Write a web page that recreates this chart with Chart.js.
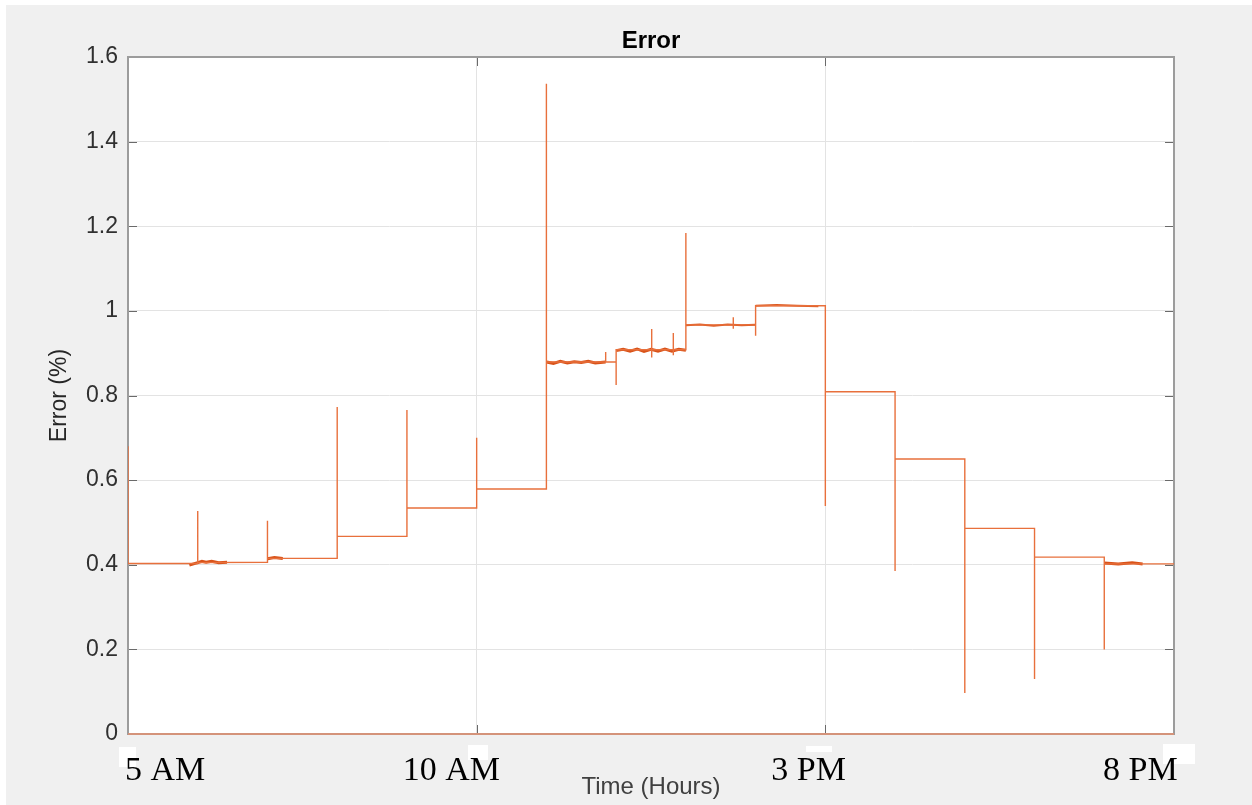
<!DOCTYPE html>
<html><head><meta charset="utf-8">
<script src="https://cdn.jsdelivr.net/npm/chart.js@4.4.1/dist/chart.umd.min.js"></script>
<style>html,body{margin:0;padding:0;background:#fff}#wrap{width:1252px;height:805px;position:relative}</style>
</head><body><div id="wrap"><canvas id="c"></canvas></div>
<script>
const chartTitle = 'Error';
const xAxisTitle = 'Time (Hours)';
const yAxisTitle = 'Error (%)';
const xTickHours = [5, 10, 15, 20];
const xTickLabels = ['5 AM', '10 AM', '3 PM', '8 PM'];
const yMin = 0, yMax = 1.6, yStep = 0.2;

// main (thin) trace: hour of day, error in %
const hours = [
  5, 5,
  6, 6, 6,
  7, 7, 7,
  8, 8, 8,
  9, 9, 9,
  10, 10, 10,
  11, 11, 11,
  11.85, 11.85, 11.85,
  12, 12, 12,
  12.51, 12.51, 12.51, 12.51,
  12.82, 12.82, 12.82, 12.82,
  13, 13, 13,
  13.68, 13.68, 13.68, 13.68,
  14, 14, 14,
  15, 15, 15,
  16, 16, 16,
  17, 17, 17,
  18, 18, 18,
  19, 19, 19,
  20
];
const errorPct = [
  0.68, 0.403,
  0.403, 0.527, 0.405,
  0.406, 0.504, 0.415,
  0.415, 0.773, 0.467,
  0.467, 0.766, 0.534,
  0.534, 0.700, 0.579,
  0.579, 1.537, 0.879,
  0.879, 0.903, 0.879,
  0.879, 0.825, 0.908,
  0.908, 0.957, 0.890, 0.908,
  0.908, 0.948, 0.895, 0.908,
  0.908, 1.184, 0.967,
  0.967, 0.985, 0.958, 0.967,
  0.967, 0.941, 1.012,
  1.012, 0.539, 0.809,
  0.809, 0.385, 0.650,
  0.650, 0.097, 0.486,
  0.486, 0.130, 0.418,
  0.418, 0.200, 0.402,
  0.402
];
// heavily noisy stretches of the same trace; null separates stretches
const noiseHours = [
  5.88, 5.94, 6.0, 6.06, 6.12, 6.2, 6.3, 6.42, 6.42,
  7.0, 7.1, 7.22, 7.22,
  11.0, 11.1, 11.2, 11.3, 11.4, 11.5, 11.6, 11.7, 11.85, 11.85,
  12.0, 12.1, 12.2, 12.3, 12.4, 12.5, 12.6, 12.7, 12.8, 12.9, 13.0, 13.0,
  19.0, 19.2, 19.4, 19.55
];
const noiseErr = [
  0.399, 0.402, 0.405, 0.408, 0.406, 0.408, 0.405, 0.406, null,
  0.414, 0.417, 0.415, null,
  0.879, 0.876, 0.881, 0.877, 0.880, 0.878, 0.881, 0.877, 0.879, null,
  0.906, 0.909, 0.905, 0.910, 0.904, 0.909, 0.905, 0.910, 0.905, 0.909, 0.907, null,
  0.404, 0.402, 0.405, 0.402
];
// lightly noisy stretches
const lightNoiseHours = [13.0, 13.2, 13.4, 13.6, 13.8, 14.0, 14.0, 14.0, 14.3, 14.6, 14.9];
const lightNoiseErr = [0.966, 0.968, 0.965, 0.968, 0.966, 0.967, null, 1.012, 1.014, 1.012, 1.011];

const sans = '"Liberation Sans", Arial, Helvetica, sans-serif';
const xLabelOffsets = [-3, -74, -54, -71];
const xLabelPatches = [[119, 747, 17, 20], [468, 745, 20, 15], [806, 746, 26, 6], [1163, 744, 32, 20]];

const figurePlugin = {
  id: 'figure',
  beforeDraw(chart) {
    const {ctx, chartArea: a, width, height} = chart;
    ctx.save();
    ctx.fillStyle = '#ffffff'; ctx.fillRect(0, 0, width, height);
    ctx.fillStyle = '#f0f0f0'; ctx.fillRect(6, 5, width - 6, height - 5);
    ctx.fillStyle = '#ffffff'; ctx.fillRect(a.left, a.top, a.right - a.left, a.bottom - a.top);
    ctx.restore();
  },
  beforeDatasetsDraw(chart) {
    const {ctx, chartArea: a, scales} = chart;
    const x = scales.x, y = scales.y;
    ctx.save();
    ctx.strokeStyle = '#6a6a6a'; ctx.lineWidth = 1;
    ctx.beginPath();
    y.ticks.forEach(t => {
      const py = Math.round(y.getPixelForValue(t.value)) + 0.5;
      ctx.moveTo(a.left, py); ctx.lineTo(a.left + 9, py);
      ctx.moveTo(a.right - 9, py); ctx.lineTo(a.right, py);
    });
    x.ticks.forEach(t => {
      const px = Math.round(x.getPixelForValue(t.value)) + 0.5;
      ctx.moveTo(px, a.bottom); ctx.lineTo(px, a.bottom - 9);
      ctx.moveTo(px, a.top); ctx.lineTo(px, a.top + 9);
    });
    ctx.stroke();
    ctx.strokeStyle = '#9c9c9c'; ctx.lineWidth = 2;
    ctx.strokeRect(a.left, a.top, a.right - a.left, a.bottom - a.top);
    ctx.strokeStyle = '#d4937a'; ctx.lineWidth = 2;
    ctx.beginPath(); ctx.moveTo(a.left, a.bottom); ctx.lineTo(a.right, a.bottom); ctx.stroke();
    ctx.restore();
  },
  afterDraw(chart) {
    const {ctx} = chart;
    const x = chart.scales.x;
    ctx.save();
    ctx.fillStyle = '#ffffff';
    xLabelPatches.forEach(p => ctx.fillRect(p[0], p[1], p[2], p[3]));
    ctx.fillStyle = '#000000';
    ctx.font = '34px "Liberation Serif", "Times New Roman", serif';
    ctx.textAlign = 'left';
    ctx.textBaseline = 'alphabetic';
    xTickLabels.forEach((lab, i) => {
      ctx.fillText(lab, x.getPixelForValue(xTickHours[i]) + xLabelOffsets[i], 780);
    });
    ctx.restore();
  }
};

new Chart(document.getElementById('c'), {
  type: 'line',
  data: {
    datasets: [
      {
        label: 'Error',
        data: hours.map((h, i) => ({x: h, y: errorPct[i]})),
        borderColor: '#e8703c',
        borderWidth: 1.4,
        pointRadius: 0,
        tension: 0
      },
      {
        label: 'Error (noise)',
        data: noiseHours.map((h, i) => ({x: h, y: noiseErr[i]})),
        borderColor: '#d95319',
        borderWidth: 3,
        pointRadius: 0,
        tension: 0,
        spanGaps: false
      },
      {
        label: 'Error (light noise)',
        data: lightNoiseHours.map((h, i) => ({x: h, y: lightNoiseErr[i]})),
        borderColor: '#dc5a22',
        borderWidth: 2,
        pointRadius: 0,
        tension: 0,
        spanGaps: false
      }
    ]
  },
  options: {
    responsive: true,
    maintainAspectRatio: false,
    animation: false,
    layout: {padding: {left: 0, right: 78, top: 0, bottom: 0}},
    plugins: {
      legend: {display: false},
      tooltip: {enabled: false},
      title: {
        display: true, text: chartTitle, fullSize: false, color: '#000000',
        font: {family: sans, size: 24, weight: 'bold', lineHeight: 1.2},
        padding: {top: 27, bottom: 1.2}
      }
    },
    scales: {
      x: {
        type: 'linear', min: 5, max: 20,
        afterBuildTicks: s => { s.ticks = xTickHours.map(v => ({value: v})); },
        afterFit: s => { s.height = 71; },
        ticks: {display: false},
        grid: {color: '#e3e3e3', drawTicks: false},
        border: {display: false},
        title: {display: true, text: xAxisTitle, color: '#404040',
          font: {family: sans, size: 24, lineHeight: 1.2}, padding: {top: 0, bottom: 3}}
      },
      y: {
        min: yMin, max: yMax,
        afterFit: s => { s.width = 128; },
        ticks: {stepSize: yStep, padding: 10, color: '#303030',
          font: {family: sans, size: 23},
          callback: v => String(Math.round(v * 10) / 10)},
        grid: {color: '#e3e3e3', drawTicks: false},
        border: {display: false},
        title: {display: true, text: yAxisTitle, color: '#262626',
          font: {family: sans, size: 23, lineHeight: 1.2}, padding: {top: 46, bottom: 0}}
      }
    }
  },
  plugins: [figurePlugin]
});
</script>
</body></html>
